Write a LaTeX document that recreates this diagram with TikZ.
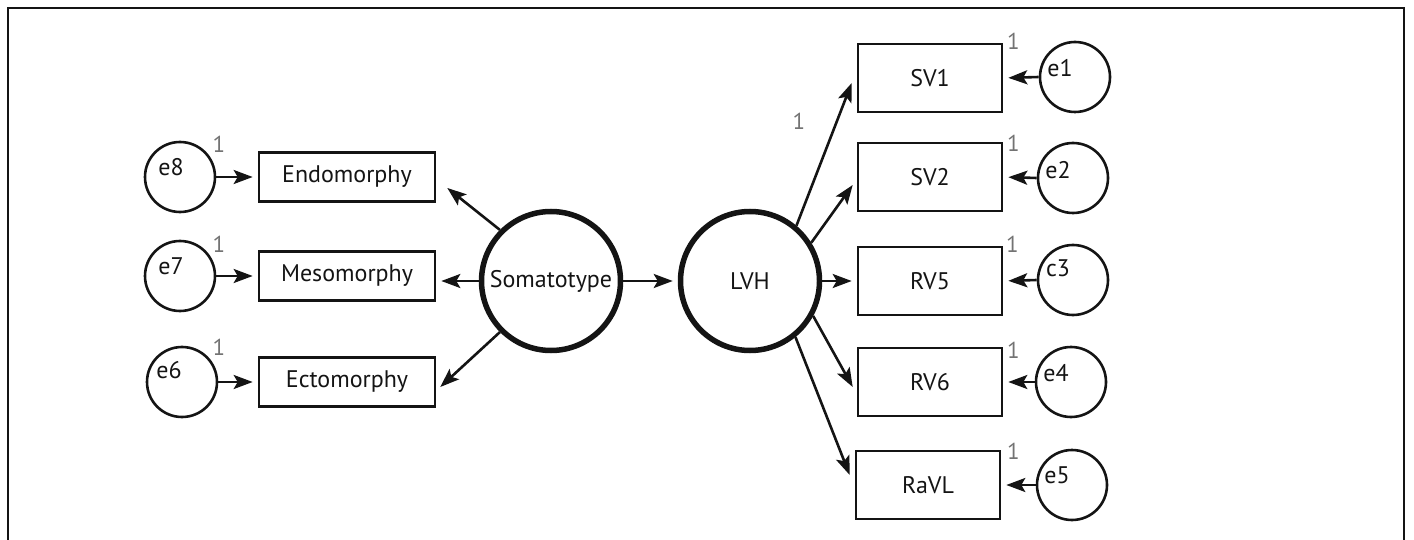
\documentclass[tikz,border=0pt]{standalone}
\usepackage{fontspec}
\setmainfont{PT Sans}
\usetikzlibrary{arrows.meta}
\begin{document}
\begin{tikzpicture}[x=1pt,y=-1pt,
  every node/.style={font=\fontsize{24}{28}\selectfont, text=black!92},
  obs/.style={draw=black!92, line width=2.6pt, rectangle, inner sep=0pt},
  lbox/.style={obs, minimum width=176pt, minimum height=49pt},
  rbox/.style={obs, minimum width=144pt, minimum height=68pt},
  err/.style={draw=black!92, line width=2.6pt, circle, inner sep=0pt, minimum size=70pt},
  lat/.style={draw=black!92, line width=5.5pt, circle, inner sep=0pt, minimum size=139pt},
  arr/.style={draw=black!92, line width=2.6pt, -{Stealth[length=19pt,width=14pt,inset=4pt]}, shorten >=5pt},
  one/.style={text=black!55, font=\fontsize{23}{27}\selectfont},
  elab/.style={inner sep=0pt}
]
\useasboundingbox (0,0) rectangle (1414,540);
\draw[draw=black!92, line width=2.4pt] (8,541) -- (8,8) -- (1404,8) -- (1404,541);

% latent variables
\node[lat] (soma) at (551,281) {Somatotype};
\node[lat] (lvh) at (750,281) {LVH};

% left indicators
\node[lbox] (endo) at (347,177) {Endomorphy};
\node[lbox] (meso) at (347,276) {Mesomorphy};
\node[lbox] (ecto) at (347,382) {Ectomorphy};

\node[err] (e8) at (180,177) {};
\node[err] (e7) at (180,276) {};
\node[err] (e6) at (182,382) {};
\node[elab] (e8t) at ([shift={(-9,-10)}]e8.center) {e8};
\node[elab] (e7t) at ([shift={(-9,-10)}]e7.center) {e7};
\node[elab] (e6t) at ([shift={(-13,-12)}]e6.center) {e6};
\node[one] (e8o) at ([shift={(39,-33)}]e8.center) {1};
\node[one] (e7o) at ([shift={(39,-32)}]e7.center) {1};
\node[one] (e6o) at ([shift={(37,-35)}]e6.center) {1};

\draw[arr] (e8.east) -- (endo.west);
\draw[arr] (e7.east) -- (meso.west);
\draw[arr] (e6.east) -- (ecto.west);

\draw[arr, shorten >=0pt] (soma.135) -- ([shift={(11,11)}]endo.east);
\draw[arr] (soma.west) -- (soma.west -| meso.east);
\draw[arr, shorten >=0pt] (soma.225) -- ([shift={(4,5)}]ecto.east);
\draw[arr] (soma.east) -- (lvh.west);

% right indicators
\node[rbox] (sv1) at (930,78) {SV1};
\node[rbox] (sv2) at (930,177) {SV2};
\node[rbox] (rv5) at (930,281) {RV5};
\node[rbox] (rv6) at (930,382) {RV6};
\node[rbox] (ravl) at (928,485) {RaVL};

\node[err] (e1) at (1075,77) {};
\node[err] (e2) at (1073,178) {};
\node[err] (c3) at (1073,280) {};
\node[err] (e4) at (1071,382) {};
\node[err] (e5) at (1072,485) {};
\node[elab] (e1t) at ([shift={(-15,-9)}]e1.center) {e1};
\node[elab] (e2t) at ([shift={(-15,-8)}]e2.center) {e2};
\node[elab] (c3t) at ([shift={(-15,-12)}]c3.center) {c3};
\node[elab] (e4t) at ([shift={(-15,-9)}]e4.center) {e4};
\node[elab] (e5t) at ([shift={(-15,-10)}]e5.center) {e5};

\node[one] (sv1o) at ([shift={(10,-1)}]sv1.north east) {1};
\node[one] (sv2o) at ([shift={(10,2)}]sv2.north east) {1};
\node[one] (rv5o) at ([shift={(9,-1)}]rv5.north east) {1};
\node[one] (rv6o) at ([shift={(10,4)}]rv6.north east) {1};
\node[one] (ravlo) at ([shift={(12,2)}]ravl.north east) {1};

\draw[arr] (e1.west) -- (sv1.east);
\draw[arr] (e2.west) -- (sv2.east);
\draw[arr] (c3.west) -- (rv5.east);
\draw[arr] (e4.west) -- (rv6.east);
\draw[arr] (e5.west) -- (ravl.east);

\draw[arr, shorten >=0pt] (lvh.50) -- ([shift={(-5,5)}]sv1.west);
\draw[arr, shorten >=0pt] (lvh.32) -- ([shift={(-4,8)}]sv2.west);
\draw[arr] (lvh.east) -- (lvh.east -| rv5.west);
\draw[arr, shorten >=0pt] (lvh.-29) -- ([shift={(-4,5)}]rv6.west);
\draw[arr, shorten >=0pt] (lvh.-51) -- ([shift={(-5,-10)}]ravl.west);
\node[one] (lvho) at (799,121) {1};
\end{tikzpicture}
\end{document}
